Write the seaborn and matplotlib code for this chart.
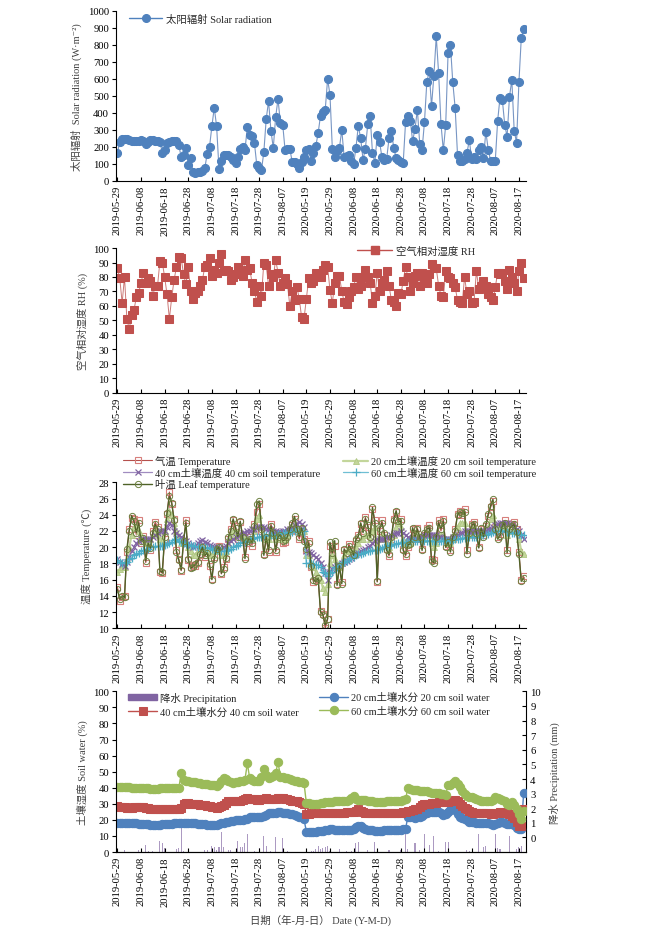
import numpy as np
import pandas as pd
import matplotlib
matplotlib.use("Agg")
import matplotlib.pyplot as plt
import seaborn as sns

# ---------------- data ----------------
dates_2019 = pd.date_range("2019-05-29", periods=80)
dates_2020 = pd.date_range("2020-05-19", periods=93)
dates = list(dates_2019) + list(dates_2020)
day_idx = np.arange(len(dates))
tick_pos = day_idx[::10]
tick_labels = [d.strftime("%Y-%m-%d") for d in dates[::10]]

solar = [165,230,245,248,245,240,238,235,235,238,
         240,238,215,232,242,240,238,235,232,165,
         185,225,232,238,238,236,210,140,150,195,
         95,135,50,48,50,55,60,75,160,200,
         322,430,322,72,120,150,155,150,143,125,
         105,140,190,200,180,318,273,265,225,95,
         75,65,170,365,470,295,195,375,483,342,
         330,180,190,190,112,110,100,78,110,140,
         183,190,115,165,205,283,385,405,420,600,
         507,190,142,175,195,300,140,145,150,115,
         100,195,325,250,125,190,335,383,165,108,
         270,230,140,125,130,250,295,195,135,125,
         110,105,345,380,355,235,305,420,220,185,
         345,580,645,440,620,850,635,335,180,330,
         750,800,580,430,155,120,115,130,165,240,
         130,140,130,185,200,135,290,185,120,115,
         120,355,490,475,330,260,495,595,295,225,
         580,840,895]

rh = [86,79,62,80,51,44,54,57,66,69,
      76,83,76,79,77,67,74,74,91,90,
      80,68,51,66,78,87,94,93,82,75,
      87,70,65,69,70,74,78,87,88,93,
      81,85,83,90,96,84,85,84,78,80,
      82,87,82,81,92,85,86,76,70,63,
      74,67,90,88,74,82,80,92,83,74,
      76,79,75,60,70,64,73,65,52,51,
      65,79,76,77,83,82,80,85,88,87,
      71,62,76,81,81,70,63,61,66,70,
      73,80,72,74,80,85,80,76,62,67,
      83,70,76,78,84,74,64,63,60,69,
      68,77,87,80,70,76,81,83,74,83,
      80,76,82,89,86,86,74,67,66,84,
      80,79,76,73,64,63,62,80,68,70,
      62,63,84,72,74,77,74,68,66,64,
      73,83,82,83,77,72,85,80,76,70,
      84,90,79]

air_temp = [15.1,13.4,13.8,14.0,19.4,22.2,23.6,23.5,21.5,23.3,
            20.5,21.4,18.1,20.8,19.6,22.0,23.1,22.5,17.0,16.8,
            21.0,24.1,26.8,25.3,23.5,19.6,18.5,17.1,20.5,23.4,
            18.4,17.5,17.8,17.7,18.0,19.0,20.2,18.8,19.5,17.7,
            16.1,18.8,19.5,20.2,16.7,17.5,18.5,21.0,22.2,23.3,
            22.6,21.0,23.1,21.5,18.8,20.5,21.2,20.2,22.9,24.4,
            25.3,22.0,19.2,21.0,19.4,22.9,21.5,19.4,21.0,21.8,
            20.5,20.6,21.5,22.0,22.7,23.5,22.0,21.0,22.2,21.0,
            19.6,20.8,17.5,15.7,16.0,16.1,12.1,11.8,10.0,11.1,
            20.2,19.0,20.2,15.5,17.5,15.7,19.6,19.0,20.4,19.5,
            19.2,20.8,21.5,22.9,22.0,23.7,22.5,21.4,24.7,23.3,
            15.7,22.0,23.3,21.5,19.8,18.9,21.0,23.5,24.3,23.0,
            23.5,19.8,18.9,20.0,20.6,22.2,21.5,22.4,21.0,19.8,
            21.5,22.4,22.7,18.5,18.4,21.0,23.3,22.0,23.5,20.2,
            20.4,19.6,21.0,22.2,24.1,24.5,24.0,24.7,19.6,21.5,
            22.9,23.1,21.5,20.0,22.2,21.5,22.6,23.9,24.9,25.7,
            22.5,21.2,21.6,22.5,23.3,19.6,22.5,22.8,23.1,22.2,
            19.4,15.9,16.4]

leaf_temp = [14.8,13.6,14.0,13.8,19.8,22.0,23.9,23.2,21.8,23.0,
             20.8,21.1,18.3,20.5,19.9,21.8,22.8,22.3,17.1,16.9,
             21.3,24.2,26.3,25.5,23.3,19.4,18.4,17.2,20.8,23.0,
             18.6,17.4,17.6,17.9,18.2,19.2,20.0,19.0,19.3,17.9,
             16.0,18.6,19.8,20.0,16.8,17.3,18.7,21.3,22.0,23.5,
             22.4,21.3,23.2,21.3,18.6,20.8,21.0,20.5,22.6,25.3,
             25.7,22.3,19.0,21.3,19.6,22.6,21.8,19.6,21.3,21.5,
             20.8,20.9,21.3,22.3,23.0,23.8,22.3,21.3,22.4,20.8,
             19.8,20.5,17.7,15.9,15.8,16.2,12.0,11.7,10.4,11.2,
             20.6,19.3,20.8,15.3,17.7,15.5,19.8,19.3,20.1,19.8,
             19.0,21.0,21.3,23.0,21.8,23.5,22.7,21.2,24.9,23.0,
             15.8,22.3,23.0,21.8,19.6,19.1,21.3,23.3,24.5,23.2,
             23.2,19.6,19.1,20.3,20.4,22.4,21.3,22.2,21.3,19.6,
             21.8,22.2,22.4,18.3,18.1,21.3,23.0,22.3,23.2,20.0,
             20.6,19.4,21.3,22.0,24.0,24.3,24.2,24.4,19.2,21.8,
             22.7,22.9,21.8,19.9,22.4,21.3,22.8,24.1,25.1,25.9,
             22.3,21.0,21.4,22.7,23.0,19.3,22.3,22.6,22.8,21.9,
             19.2,15.8,16.2]

soil_t20 = [17.0,17.3,17.5,17.6,18.5,20.0,21.5,22.5,22.5,22.0,
            21.5,21.0,20.5,20.5,21.0,21.5,22.0,22.0,21.0,20.8,
            22.0,23.5,24.5,24.0,23.0,22.0,21.0,20.5,20.5,20.5,
            20.0,19.5,19.0,19.0,19.5,20.0,20.0,19.5,19.5,19.0,
            19.0,19.5,19.5,19.5,19.0,19.0,19.5,20.5,21.5,22.0,
            22.0,21.5,21.5,21.5,21.0,21.0,21.0,21.0,22.0,23.5,
            24.0,22.5,21.5,21.0,21.0,21.5,21.5,21.0,21.5,21.5,
            21.0,21.0,21.5,22.0,22.5,23.0,22.5,22.0,22.0,22.0,
            19.0,19.0,18.0,17.5,17.0,16.5,16.0,15.0,14.5,15.5,
            18.0,19.0,18.5,17.5,17.5,18.0,19.0,19.5,19.5,19.5,
            19.5,20.0,20.5,21.0,21.0,21.5,21.5,21.0,22.0,22.5,
            20.0,21.0,21.5,21.0,20.5,20.0,20.5,21.5,22.5,23.0,
            22.5,21.0,20.5,20.5,20.5,21.0,21.5,21.5,21.0,21.0,
            21.0,21.5,21.5,20.5,20.0,20.5,21.5,21.5,21.5,21.0,
            20.5,20.5,21.0,21.5,22.5,23.0,23.0,23.0,21.5,21.5,
            22.0,22.5,22.0,21.5,22.0,22.0,22.0,22.5,23.5,24.0,
            23.0,22.5,22.5,22.5,22.5,21.5,22.0,22.0,22.5,22.0,
            21.0,19.5,19.2]

soil_t40 = [18.5,18.2,17.9,17.7,18.2,18.8,19.5,20.0,20.5,20.8,
            21.0,21.0,21.0,21.0,21.0,21.2,21.5,21.7,22.0,22.0,
            22.0,22.5,23.0,22.7,22.0,21.7,21.5,21.3,21.0,20.8,
            20.5,20.3,20.0,20.2,20.5,20.8,20.9,20.7,20.5,20.3,
            20.2,20.0,20.0,19.9,19.8,20.0,20.2,20.5,20.8,21.0,
            21.2,21.5,21.5,21.7,21.8,22.0,22.0,22.2,22.3,22.5,
            22.5,22.5,22.5,22.3,22.2,22.0,22.0,22.0,21.9,21.9,
            22.0,22.0,22.2,22.3,22.5,22.7,22.9,23.1,22.8,22.5,
            19.5,19.4,19.3,19.0,18.8,18.5,18.0,17.5,16.8,16.0,
            17.0,17.3,17.5,17.7,17.8,18.0,18.2,18.3,18.5,18.7,
            19.0,19.2,19.3,19.5,19.7,19.8,20.0,20.2,20.5,20.8,
            21.0,21.0,21.0,21.0,21.2,21.3,21.5,21.6,21.7,21.8,
            22.0,21.8,21.5,21.2,21.0,21.0,21.0,21.0,21.2,21.3,
            21.5,21.5,21.5,21.5,21.5,21.5,21.3,21.2,21.0,21.0,
            21.0,21.0,21.2,21.3,21.5,21.7,21.8,22.0,22.0,22.0,
            22.0,22.0,22.0,22.0,22.0,22.0,22.0,22.2,22.3,22.5,
            22.7,22.8,23.0,23.0,23.0,23.0,22.8,22.7,22.5,22.3,
            22.0,21.5,21.0]

soil_t60 = [18.4,18.2,18.0,18.0,18.2,18.5,18.7,19.0,19.2,19.3,
            19.5,19.6,19.7,19.8,20.0,20.0,20.1,20.1,20.2,20.2,
            20.3,20.4,20.5,20.7,20.9,21.0,20.8,20.7,20.5,20.4,
            20.3,20.3,20.2,20.1,20.0,20.0,20.0,20.0,19.9,19.9,
            19.8,19.7,19.6,19.5,19.5,19.5,19.5,19.7,19.8,20.0,
            20.2,20.3,20.5,20.6,20.7,20.8,21.0,21.0,21.1,21.2,
            21.3,21.3,21.4,21.5,21.5,21.5,21.5,21.5,21.6,21.6,
            21.7,21.8,21.8,21.9,21.9,22.0,22.0,22.0,22.0,22.0,
            18.0,18.0,18.0,17.9,17.8,17.8,17.5,17.0,16.8,16.5,
            16.8,17.0,17.5,17.6,17.8,18.0,18.2,18.3,18.5,18.7,
            18.8,19.0,19.1,19.2,19.3,19.4,19.5,19.5,19.6,19.6,
            19.7,19.8,19.9,20.0,20.1,20.2,20.3,20.4,20.4,20.5,
            20.5,20.6,20.6,20.7,20.8,20.8,20.8,20.8,20.8,20.8,
            20.8,20.8,20.8,20.8,20.8,20.8,20.8,20.8,20.8,20.8,
            20.8,20.9,20.9,21.0,21.0,21.0,21.1,21.1,21.2,21.2,
            21.2,21.3,21.3,21.4,21.4,21.5,21.5,21.6,21.8,21.9,
            22.0,22.0,22.0,22.0,22.0,21.9,21.9,21.8,21.8,21.7,
            21.6,21.5,21.5]

sw20 = [18.0,18.0,18.0,18.0,18.0,18.0,18.0,17.8,17.8,17.7,
        17.5,17.5,17.3,17.2,17.0,17.0,16.8,16.8,17.0,17.2,
        17.5,17.5,17.5,17.7,17.8,17.8,18.0,18.0,18.0,18.0,
        18.0,18.0,18.0,17.8,17.6,17.5,17.3,17.2,17.0,17.0,
        17.0,17.0,17.0,17.3,17.8,18.3,18.8,19.0,19.3,19.5,
        19.7,19.8,20.0,20.0,20.3,20.8,21.5,22.0,22.0,22.0,
        22.0,22.0,22.5,23.3,24.2,24.5,24.5,24.5,24.7,24.7,
        24.5,24.3,24.0,23.8,23.5,23.0,22.5,22.0,21.5,20.5,
        12.7,12.6,12.5,12.5,12.6,12.8,13.0,13.3,13.6,14.0,
        14.3,14.3,14.0,13.8,13.5,13.5,13.6,13.8,14.0,14.0,
        14.5,15.3,16.2,16.0,15.0,14.3,14.0,13.8,13.5,13.4,
        13.4,13.4,13.4,13.5,13.5,13.6,13.7,13.8,14.0,14.0,
        14.0,14.2,14.5,22.0,21.8,21.5,21.3,21.5,22.0,22.5,
        23.5,24.5,25.0,24.7,25.0,25.0,24.8,24.0,23.0,23.5,
        25.0,26.0,26.8,26.0,23.5,22.0,21.3,20.5,19.8,19.0,
        18.7,18.5,18.3,18.2,18.0,18.0,17.9,17.8,17.5,17.0,
        17.2,18.0,19.0,18.5,18.0,17.6,17.3,17.2,17.0,15.0,
        14.3,14.5,36.7]

sw40 = [28.5,28.3,28.0,27.8,27.5,27.5,27.5,27.8,28.0,28.0,
        28.0,27.8,27.5,27.3,27.0,27.0,27.0,27.0,27.0,27.0,
        27.0,27.0,27.0,27.0,27.0,27.0,27.0,27.5,30.0,30.5,
        30.3,30.0,30.0,30.0,29.8,29.5,29.3,29.0,28.8,28.5,
        28.0,27.8,27.5,27.8,28.5,29.5,30.5,31.5,31.5,31.5,
        31.5,31.5,31.8,32.5,33.0,33.5,33.3,33.0,32.8,32.5,
        32.5,32.8,33.3,33.5,33.3,33.0,33.0,33.2,33.5,33.5,
        33.5,33.3,33.0,32.5,32.0,31.8,31.5,31.0,30.5,30.0,
        23.7,23.8,24.0,24.0,24.0,24.0,24.0,24.2,24.3,24.5,
        24.5,24.5,24.5,24.5,24.5,24.5,24.5,24.7,24.8,25.0,
        25.0,25.5,26.8,25.5,24.8,24.5,24.3,24.2,24.0,24.0,
        24.0,24.0,24.0,24.0,24.0,24.0,24.0,24.2,24.3,24.5,
        24.5,24.8,25.0,25.3,25.5,26.0,26.5,27.0,28.0,29.0,
        29.8,30.0,30.0,30.3,30.5,30.8,31.0,31.0,31.0,31.0,
        31.0,31.5,32.0,32.3,32.0,30.0,28.5,27.5,26.5,25.5,
        25.0,24.5,24.2,24.0,24.0,24.0,24.0,24.0,23.8,23.8,
        24.0,24.5,25.0,24.8,24.3,24.0,23.5,22.5,21.0,19.0,
        16.5,16.3,27.0]

sw60 = [40.5,40.5,40.3,40.3,40.2,40.2,40.0,40.0,40.0,40.0,
        40.0,39.8,39.7,39.6,39.5,39.5,39.5,39.5,39.6,39.6,
        39.7,39.7,39.7,39.7,39.8,39.8,39.8,49.0,45.0,44.3,
        44.0,43.8,43.5,43.3,43.0,42.8,42.5,42.3,42.2,42.0,
        41.8,41.5,41.3,42.5,44.5,45.8,45.5,44.0,43.5,43.2,
        43.5,43.8,44.0,44.5,45.0,55.2,46.0,45.0,44.5,44.0,
        44.0,46.5,51.7,48.0,46.0,46.5,47.5,49.0,56.0,47.0,
        46.5,46.0,46.0,45.5,45.0,44.5,44.0,43.8,43.5,43.0,
        30.5,30.3,30.2,30.0,30.0,30.2,30.5,30.7,31.0,31.0,
        31.0,31.2,31.5,31.5,31.5,31.8,32.0,32.0,32.5,33.5,
        35.0,33.0,32.5,32.3,32.3,32.2,32.0,31.8,31.5,31.3,
        31.0,31.0,31.2,31.3,31.5,31.5,31.7,31.8,32.0,32.0,
        32.0,32.3,33.0,39.6,39.3,38.8,38.5,38.3,38.2,38.0,
        38.0,37.8,37.5,37.0,36.8,36.5,36.5,36.3,36.0,35.5,
        41.7,42.0,43.0,44.4,42.5,40.5,38.0,36.0,35.0,34.5,
        34.0,33.5,33.0,32.5,32.0,32.0,31.8,31.5,31.5,32.5,
        34.0,33.5,33.0,32.5,31.5,30.0,29.0,31.0,29.5,27.0,
        23.5,20.7,25.5]

precip = [0,0,0,0.11,0,0,0,0,0,0.17,
          0,0,0.5,0.09,0,0.07,0,0,0.73,0.59,
          0.28,0,0,0,0,0.21,0.28,1.7,0.09,0,
          0,0,0,0,0,0,0,0.11,0.13,0,
          0.44,0.33,0.13,0.33,1.4,0.33,0,0.17,0.13,0,
          0,0.77,0.33,0.36,0.59,1.21,0,0,0.04,0,
          0.25,0,1.12,0.44,0,0.04,0,1.05,0,0,
          0.94,0,0.04,0,0,0,0,0,0,0,
          0,0,0.07,0.09,0.19,0.39,0.21,0.25,0.33,0.44,
          0.07,0,0,0,0.21,0,0,0.09,0,0.07,
          0,0.59,0.7,0,0,0,0.11,0,0,0.66,
          0,0,0,0,0,0.17,0,0,0,0,
          0.13,0,1.34,0.19,0,0,0.59,0,0.17,0,
          1.23,0,0.5,0,1.12,0,0.07,0,0,0.66,
          0.66,0,0,0,0,0,0,0,0.17,0.09,
          0,0,0,1.21,0,0.33,0.44,0,0,0,
          1.23,0.28,0.21,0,0,0,1.08,0,0,0.22,
          0.33,0.44,0]

# ---------------- style ----------------
sns.set_theme(style="ticks")
plt.rcParams["font.family"] = ["Liberation Serif", "Noto Sans CJK SC", "DejaVu Sans"]
plt.rcParams["axes.edgecolor"] = "black"
plt.rcParams["axes.linewidth"] = 0.8
plt.rcParams["xtick.color"] = "black"
plt.rcParams["ytick.color"] = "black"

TS = 7.7   # tick size
LS = 7.5   # legend size
AS = 7.5   # axis label size
LABEL_COLOR = "#404040"

fig = plt.figure(figsize=(6.49, 9.37), dpi=100)
L, W = 116 / 649, 410 / 649
ax1 = fig.add_axes([L, 0.8058, W, 0.1814])
ax2 = fig.add_axes([L, 0.5798, W, 0.1544])
ax3 = fig.add_axes([L, 0.3284, W, 0.1558])
ax4 = fig.add_axes([L, 0.0896, W, 0.1715])


def style_axis(ax, ylim, yticks):
    ax.set_xlim(-0.6, 173)
    ax.set_ylim(*ylim)
    ax.set_yticks(yticks)
    ax.set_xticks(tick_pos)
    ax.set_xticklabels(tick_labels, rotation=90)
    ax.tick_params(axis="x", direction="in", length=3, width=0.8, labelsize=TS, pad=3)
    ax.tick_params(axis="y", direction="out", length=3, width=0.8, labelsize=TS, pad=2)
    sns.despine(ax=ax)
    ax.set_xlabel("")


def line(ax, y, **kw):
    sns.lineplot(x=day_idx, y=np.asarray(y, dtype=float), ax=ax, estimator=None,
                 sort=False, legend=False, **kw)
    return ax.lines[-1]


# ---- panel 1: solar radiation
line(ax1, solar, color="#7896c4", linewidth=0.8, marker="o", markersize=5.8,
     markerfacecolor="#4f81bd", markeredgecolor="#4f81bd")
style_axis(ax1, (0, 1000), np.arange(0, 1001, 100))
ax1.set_ylabel("太阳辐射  Solar radiation (W·m⁻²)", fontsize=AS,
               color=LABEL_COLOR, labelpad=4)
leg_h1 = plt.Line2D([], [], color="#4f81bd", lw=1.0, marker="o", markersize=5.5,
                    markerfacecolor="#4f81bd", markeredgecolor="#4f81bd")
ax1.legend([leg_h1], ["太阳辐射 Solar radiation"], loc="center left",
           bbox_to_anchor=(129 / 649, 1 - 20 / 937), bbox_transform=fig.transFigure,
           frameon=False, fontsize=LS, borderpad=0, borderaxespad=0,
           handlelength=3.2, handletextpad=0.35)

# ---- panel 2: relative humidity
line(ax2, rh, color="#cc7a78", linewidth=0.7, marker="s", markersize=5.2,
     markerfacecolor="#c0504d", markeredgecolor="#c0504d")
style_axis(ax2, (0, 100), np.arange(0, 101, 10))
ax2.set_ylabel("空气相对湿度 RH (%)", fontsize=AS, color=LABEL_COLOR, labelpad=4)
leg_h2 = plt.Line2D([], [], color="#c0504d", lw=1.0, marker="s", markersize=5.2,
                    markerfacecolor="#c0504d", markeredgecolor="#c0504d")
ax2.legend([leg_h2], ["空气相对湿度 RH"], loc="center left",
           bbox_to_anchor=(357 / 649, 1 - 252 / 937), bbox_transform=fig.transFigure,
           frameon=False, fontsize=LS, borderpad=0, borderaxespad=0,
           handlelength=3.4, handletextpad=0.35)

# ---- panel 3: temperatures
st_air = dict(color="#b5504c", linewidth=0.8, marker="s", markersize=4.5,
              markerfacecolor="none", markeredgecolor="#d77f7c", markeredgewidth=0.8)
st_20 = dict(color="#c3d69b", linewidth=1.6, marker="^", markersize=4.2,
             markerfacecolor="#c3d69b", markeredgecolor="#b0c884", markeredgewidth=0.6)
st_40 = dict(color="#a08cc0", linewidth=0.9, marker="x", markersize=4.5,
             markeredgecolor="#8064a2", markeredgewidth=0.9)
st_60 = dict(color="#6fbfd4", linewidth=0.9, marker="+", markersize=5.5,
             markeredgecolor="#4bacc6", markeredgewidth=0.9)
st_leaf = dict(color="#4f6228", linewidth=1.0, marker="o", markersize=4.5,
               markerfacecolor="none", markeredgecolor="#6d8040", markeredgewidth=0.7)
h_air = line(ax3, air_temp, **st_air)
h_20 = line(ax3, soil_t20, **st_20)
h_40 = line(ax3, soil_t40, **st_40)
h_60 = line(ax3, soil_t60, **st_60)
h_leaf = line(ax3, leaf_temp, **st_leaf)
style_axis(ax3, (10, 28), np.arange(10, 29, 2))
ax3.set_ylabel("温度 Temperature (℃)", fontsize=AS, color=LABEL_COLOR, labelpad=4)
lg_a = ax3.legend([h_air, h_40, h_leaf],
                  ["气温 Temperature", "40 cm土壤温度 40 cm soil temperature",
                   "叶温 Leaf temperature"],
                  loc="upper left", bbox_to_anchor=(123 / 649, 1 - 456 / 937),
                  bbox_transform=fig.transFigure, frameon=False, fontsize=LS,
                  borderpad=0, borderaxespad=0, handlelength=2.8,
                  handletextpad=0.3, labelspacing=0.05)
ax3.add_artist(lg_a)
ax3.legend([h_20, h_60],
           ["20 cm土壤温度 20 cm soil temperature", "60 cm土壤温度 60 cm soil temperature"],
           loc="upper left", bbox_to_anchor=(343 / 649, 1 - 456 / 937),
           bbox_transform=fig.transFigure, frameon=False, fontsize=LS,
           borderpad=0, borderaxespad=0, handlelength=2.4,
           handletextpad=0.3, labelspacing=0.05)

# ---- panel 4: soil water + precipitation
axp = ax4.twinx()
axp.bar(day_idx, precip, bottom=-1, width=0.45, color="#8064a2", alpha=0.65,
        linewidth=0)
axp.set_ylim(-1, 10)
axp.set_yticks(np.arange(0, 11, 1))
axp.tick_params(axis="y", direction="in", length=3, width=0.8, labelsize=TS, pad=3)
axp.spines["top"].set_visible(False)
axp.spines["left"].set_visible(False)
axp.set_ylabel("降水 Precipitation (mm)", fontsize=AS, color=LABEL_COLOR, labelpad=6)
ax4.set_zorder(axp.get_zorder() + 1)
ax4.patch.set_visible(False)

h_sw20 = line(ax4, sw20, color="#4f81bd", linewidth=1.0, marker="o", markersize=6,
              markerfacecolor="#4f81bd", markeredgecolor="#4f81bd")
h_sw40 = line(ax4, sw40, color="#c0504d", linewidth=1.0, marker="s", markersize=5.5,
              markerfacecolor="#c0504d", markeredgecolor="#c0504d")
h_sw60 = line(ax4, sw60, color="#9bbb59", linewidth=1.0, marker="o", markersize=6,
              markerfacecolor="#9bbb59", markeredgecolor="#9bbb59")
style_axis(ax4, (0, 100), np.arange(0, 101, 10))
ax4.spines["right"].set_visible(False)
ax4.set_ylabel("土壤湿度 Soil water (%)", fontsize=AS, color=LABEL_COLOR, labelpad=4)
ax4.set_xlabel("日期（年-月-日） Date (Y-M-D)", fontsize=AS, color=LABEL_COLOR, labelpad=6)

bar_handle = matplotlib.patches.Patch(color="#8064a2")
lg_b = ax4.legend([bar_handle, h_sw40],
                  ["降水 Precipitation", "40 cm土壤水分 40 cm soil water"],
                  loc="upper left", bbox_to_anchor=(128 / 649, 1 - 693 / 937),
                  bbox_transform=fig.transFigure, frameon=False, fontsize=LS,
                  borderpad=0, borderaxespad=0, handlelength=2.8, handleheight=0.5,
                  handletextpad=0.3, labelspacing=0.3)
ax4.add_artist(lg_b)
ax4.legend([h_sw20, h_sw60],
           ["20 cm土壤水分 20 cm soil water", "60 cm土壤水分 60 cm soil water"],
           loc="upper left", bbox_to_anchor=(319 / 649, 1 - 693 / 937),
           bbox_transform=fig.transFigure, frameon=False, fontsize=LS,
           borderpad=0, borderaxespad=0, handlelength=2.8,
           handletextpad=0.3, labelspacing=0.3)

fig.savefig("out.png", dpi=100)
